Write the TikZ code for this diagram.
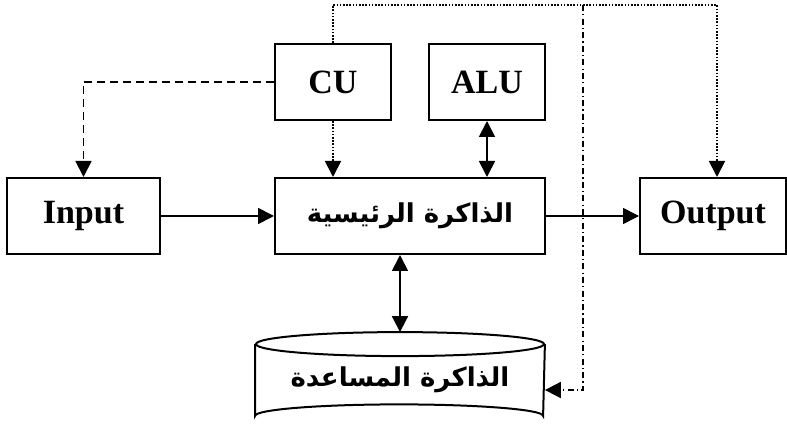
\documentclass[tikz,border=0pt]{standalone}
\usepackage{fontspec}
\setmainfont{Liberation Serif}
\newfontfamily\arabicfont[Script=Arabic]{DejaVu Sans}
\TeXXeTstate=1
\usetikzlibrary{positioning, arrows.meta}

\begin{document}
\begin{tikzpicture}[x=0.5pt, y=-0.5pt, node distance=2cm, on grid,
        >={Triangle[length=8pt,width=8pt]}, line width=0.9pt,
        font=\fontsize{17}{20}\selectfont\bfseries]
        \tikzset{box/.style={draw, line width=1pt, minimum height=38pt, inner sep=0pt},
                 arab/.style={font=\fontsize{13}{15}\selectfont\bfseries\arabicfont},
                 ctrl/.style={dash pattern=on 4pt off 2.5pt},
                 sig/.style={dash pattern=on 0.8pt off 0.8pt},
                 sigtwo/.style={dash pattern=on 3pt off 1.6pt on 0.6pt off 1.6pt}}
        \useasboundingbox (0,0) rectangle (787,427);

        \node[box, arab, minimum width=135pt] (ram) at (410,216) {\beginR الذاكرة الرئيسية\endR};
        \node[box, minimum width=58pt] (cu) [above left=67pt and 38.5pt of ram] {CU};
        \node[box, minimum width=58pt] (alu) [above right=67pt and 38.5pt of ram] {ALU};
        \node[box, minimum width=76.5pt] (in) [left=163.25pt of ram] {Input};
        \node[box, minimum width=73pt] (out) [right=151.5pt of ram] {Output};
        \node[arab, minimum width=144pt, minimum height=35pt, inner sep=0pt] (aux) at (400,380)
            {\beginR الذاكرة المساعدة\endR};
        % disk outline
        \draw[line width=1pt] (aux.north) ellipse [x radius=144, y radius=12];
        \draw[line width=1pt] (aux.north west) -- (aux.south west)
            arc[start angle=180, end angle=360, x radius=144, y radius=11.5] -- (aux.north east);

        \coordinate (top) at (583,5);
        \path[->]
        (in) edge (ram)
        (ram) edge (out);
        \draw[<->] (alu) -- (ram.north -| alu);
        \draw[<->] (ram.south -| aux.north) -- ([yshift=6pt]aux.north);
        \draw[->, ctrl] (cu.west) -| (in.north);
        \draw[->, sig] (cu) -- (ram.north -| cu);
        \draw[->, sig] (cu.north) |- (top) -| ([xshift=2pt]out.north);
        \draw[->, sigtwo] (top) |- ([yshift=-5pt]aux.east);
    \end{tikzpicture}
\end{document}
